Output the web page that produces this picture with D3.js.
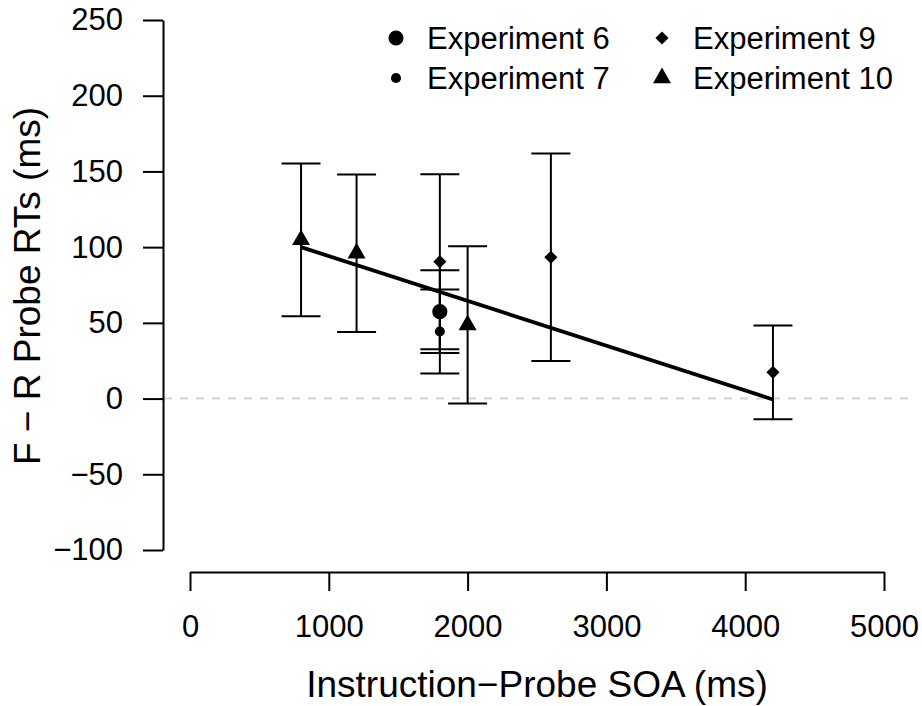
<!DOCTYPE html>
<html>
<head>
<meta charset="utf-8">
<script src="https://cdn.jsdelivr.net/npm/d3@7"></script>
<style>
  body { margin: 0; background: #fff; }
  svg { font-family: "Liberation Sans", Arial, Helvetica, sans-serif; }
</style>
</head>
<body>
<svg width="922" height="706"></svg>
<script>
// one entry per plotted mean
var experiments = ["Experiment 6", "Experiment 7", "Experiment 9", "Experiment 10"];
var soa   = [1800, 1800, 1800, 2600, 4200, 800, 1200, 2000];
var group = ["Experiment 6", "Experiment 7", "Experiment 9", "Experiment 9", "Experiment 9",
             "Experiment 10", "Experiment 10", "Experiment 10"];
var diff  = [57.4, 44.3, 90.4, 93.3, 17.3, 104.8, 96, 48.6];
var lower = [30.1, 16.5, 32.6, 24.8, -13.7, 54.4, 44, -3.3];
var upper = [84.7, 72, 148.1, 161.8, 48.2, 155.2, 148, 100.6];

// fitted line ends
var fitX = [800, 4200];
var fitY = [100, -0.6];

var xTicks = [0, 1000, 2000, 3000, 4000, 5000];
var yTicks = [-100, -50, 0, 50, 100, 150, 200, 250];

var svg = d3.select("svg");

var x = d3.scaleLinear().domain([0, 5000]).range([190, 884]);
var y = d3.scaleLinear().domain([-100, 250]).range([550, 20]);

// symbol per experiment
var shape = {
  "Experiment 6":  {type: d3.symbolCircle, size: 180, rot: 0},
  "Experiment 7":  {type: d3.symbolCircle, size: 80, rot: 0},
  "Experiment 9":  {type: d3.symbolSquare, size: 86, rot: 45},
  "Experiment 10": {type: d3.symbolTriangle, size: 140, rot: 0}
};
function symbolPath(name) {
  return d3.symbol().type(shape[name].type).size(shape[name].size)();
}

// reference line at zero
svg.append("line")
    .attr("x1", 164).attr("x2", 912)
    .attr("y1", y(0)).attr("y2", y(0))
    .attr("stroke", "#d3d3d3")
    .attr("stroke-width", 2)
    .attr("stroke-dasharray", "8,8");

// axes
var yAxis = d3.axisLeft(y).tickValues(yTicks).tickSize(20).tickSizeOuter(0).tickPadding(20);
var gy = svg.append("g").attr("transform", "translate(163,0)").call(yAxis);

var xAxis = d3.axisBottom(x).tickValues(xTicks).tickFormat(d3.format("d"))
    .tickSize(19).tickSizeOuter(0).tickPadding(24);
var gx = svg.append("g").attr("transform", "translate(0,572)").call(xAxis);

[gy, gx].forEach(function(g) {
  g.selectAll("path, line").attr("stroke", "#000").attr("stroke-width", 2);
  g.selectAll("text").attr("fill", "#000").style("font-size", "31px");
});

// axis titles
svg.append("text")
    .attr("x", 537).attr("y", 697)
    .attr("text-anchor", "middle")
    .style("font-size", "37px")
    .text("Instruction\u2212Probe SOA (ms)");

svg.append("text")
    .attr("transform", "translate(40,286) rotate(-90)")
    .attr("text-anchor", "middle")
    .style("font-size", "37px")
    .text("F \u2212 R Probe RTs (ms)");

// error bars
var idx = d3.range(soa.length);
var bars = svg.append("g").attr("stroke", "#000").attr("stroke-width", 2);

bars.selectAll(".stem").data(idx).enter().append("line")
    .attr("x1", function(i) { return x(soa[i]); })
    .attr("x2", function(i) { return x(soa[i]); })
    .attr("y1", function(i) { return y(lower[i]); })
    .attr("y2", function(i) { return y(upper[i]); });

bars.selectAll(".capLo").data(idx).enter().append("line")
    .attr("x1", function(i) { return x(soa[i]) - 19.5; })
    .attr("x2", function(i) { return x(soa[i]) + 19.5; })
    .attr("y1", function(i) { return y(lower[i]); })
    .attr("y2", function(i) { return y(lower[i]); });

bars.selectAll(".capHi").data(idx).enter().append("line")
    .attr("x1", function(i) { return x(soa[i]) - 19.5; })
    .attr("x2", function(i) { return x(soa[i]) + 19.5; })
    .attr("y1", function(i) { return y(upper[i]); })
    .attr("y2", function(i) { return y(upper[i]); });

// fitted line
svg.append("path")
    .datum(d3.zip(fitX, fitY))
    .attr("fill", "none")
    .attr("stroke", "#000")
    .attr("stroke-width", 3.8)
    .attr("d", d3.line().x(function(d) { return x(d[0]); }).y(function(d) { return y(d[1]); }));

// points
svg.selectAll(".pt").data(idx).enter().append("path")
    .attr("fill", "#000")
    .attr("d", function(i) { return symbolPath(group[i]); })
    .attr("transform", function(i) {
      return "translate(" + x(soa[i]) + "," + y(diff[i]) + ") rotate(" + shape[group[i]].rot + ")";
    });

// legend, two columns
var legPos = [[396, 38], [396, 78], [662, 38], [662, 78]];
var leg = svg.append("g");
experiments.forEach(function(name, i) {
  var p = legPos[i];
  leg.append("path")
      .attr("fill", "#000")
      .attr("d", symbolPath(name))
      .attr("transform", "translate(" + p[0] + "," + p[1] + ") rotate(" + shape[name].rot + ")");
  leg.append("text")
      .attr("x", p[0] + 31).attr("y", p[1] + 11)
      .style("font-size", "31px")
      .text(name);
});
</script>
</body>
</html>
